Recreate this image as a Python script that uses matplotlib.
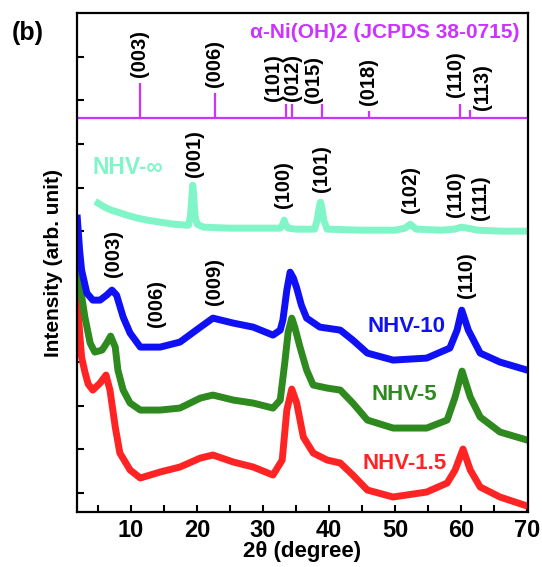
import matplotlib
matplotlib.use("Agg")
import matplotlib.pyplot as plt
import numpy as np

plt.rcParams['font.family'] = ['Liberation Sans', 'DejaVu Sans']
plt.rcParams['font.weight'] = 'bold'

# ---------------- data ----------------
# reference pattern alpha-Ni(OH)2 JCPDS 38-0715
ref_hkl = ["(003)", "(006)", "(101)", "(012)", "(015)", "(018)", "(110)", "(113)"]
ref_2theta = [11.35, 22.7, 33.5, 34.4, 38.9, 46.0, 59.9, 61.3]
ref_intensity = [100, 72, 40, 40, 40, 21, 40, 23]

# NHV-inf (offset pattern, arb. unit)
inf_x = [5.0, 6, 7, 8, 9.4, 11, 12.5, 14.4, 16.5, 18.3, 18.7, 19.0, 19.2, 19.35, 19.5, 19.7, 20.0,
         21, 25, 30, 32.6, 33.0, 33.2, 33.4, 33.8, 35, 37.8, 38.2, 38.5, 38.7, 38.9, 39.2, 39.7,
         45, 50, 51.5, 52.3, 53.2, 57, 59, 60, 61, 62.5, 66, 70]
inf_y = [309, 305, 302, 300, 297, 294, 292, 290, 288, 287, 287, 296, 315, 327, 315, 296, 288,
         285, 284, 284, 284, 288, 292, 288, 284, 283, 283, 292, 305, 310, 305, 292, 283,
         282, 282, 284, 288, 283, 282, 283, 285, 284, 282, 281, 281]

# NHV-10
b_x = [1.85, 2.2, 2.5, 3.3, 4.2, 5.3, 6.3, 7.1, 7.8, 8.8, 9.85, 11.4, 14.4, 17.4, 20.5, 22.4,
       25.5, 28.5, 31.5, 32.6, 33.0, 33.6, 34.1, 34.6, 35.1, 35.8, 36.6, 38.6, 41.7, 43.6, 45.8,
       49.7, 54.8, 58.3, 59.4, 60.1, 61.1, 62.9, 65.9, 70]
b_y = [294, 262, 242, 219, 212, 212, 217, 222, 217, 195, 179, 165, 165, 170, 185, 194,
       189, 185, 177, 182, 192, 222, 240, 234, 224, 207, 194, 185, 182, 172, 159,
       152, 154, 164, 182, 202, 182, 159, 150, 142]

# NHV-5
g_x = [1.85, 2.3, 3.0, 3.8, 4.5, 5.6, 6.3, 6.9, 7.6, 8.0, 8.8, 9.85, 11.4, 14.4, 17.4, 20.5,
       22.4, 25.5, 28.5, 31.5, 32.6, 33.3, 33.8, 34.35, 34.8, 35.6, 36.6, 37.6, 39.7, 41.7,
       43.6, 45.8, 49.7, 54.8, 57.9, 59.1, 60.15, 61.4, 62.9, 65.9, 70]
g_y = [272, 225, 195, 169, 160, 162, 169, 176, 165, 142, 122, 109, 102, 102, 104, 114,
       117, 112, 109, 104, 112, 150, 180, 194, 185, 165, 142, 127, 124, 122,
       109, 92, 84, 84, 92, 115, 141, 115, 95, 80, 72]

# NHV-1.5
r_x = [1.85, 2.2, 2.5, 3.0, 3.5, 4.2, 5.3, 6.2, 6.8, 7.6, 8.3, 9.85, 11.4, 14.4, 17.4, 20.5,
       22.4, 25.5, 28.5, 31.5, 32.9, 33.6, 34.35, 35.1, 36.1, 37.6, 39.7, 41.7, 43.6, 45.8,
       49.7, 54.8, 57.9, 59.1, 60.3, 61.4, 62.9, 65.9, 70]
r_y = [212, 180, 155, 140, 128, 122, 129, 137, 122, 85, 59, 42, 34, 40, 45, 54,
       57, 50, 45, 37, 52, 102, 123, 109, 75, 59, 52, 49, 37, 22,
       15, 20, 29, 42, 63, 42, 25, 15, 6]

# peak labels: (text, 2theta, bottom intensity)
inf_labels = [("(001)", 19.6, 335), ("(100)", 33.1, 304), ("(101)", 38.9, 320),
              ("(102)", 52.3, 299), ("(110)", 59.1, 295), ("(111)", 63.0, 292)]
b_labels = [("(003)", 7.3, 235), ("(006)", 13.9, 185), ("(009)", 22.6, 207), ("(110)", 60.9, 214)]
ref_label_pos = [(11.35, 435), (22.7, 425), (31.6, 411), (34.5, 411), (37.6, 409),
                 (46.0, 407), (59.2, 415), (63.2, 402)]

series_names = ["NHV-\u221e", "NHV-10", "NHV-5", "NHV-1.5"]

# ---------------- style ----------------
C_MAG = '#CC33FF'
C_INF = '#80F5C8'
C_B = '#1010F5'
C_G = '#2E8A1E'
C_R = '#FF2424'
HKL_FS = 14.5

fig = plt.figure(figsize=(5.42, 5.67), dpi=100)
ax = fig.add_axes([77.3 / 542, 1 - 512 / 567, (527.7 - 77.3) / 542, (512 - 13.3) / 567])

lw = 5.0
ax.plot(r_x, r_y, color=C_R, lw=lw, solid_joinstyle='round')
ax.plot(g_x, g_y, color=C_G, lw=lw, solid_joinstyle='round')
ax.plot(b_x, b_y, color=C_B, lw=lw, solid_joinstyle='round')
ax.plot(inf_x, inf_y, color=C_INF, lw=lw, solid_joinstyle='round')

# reference sticks
base = 394
scale = 0.35
ax.axhline(base, color=C_MAG, lw=1.6)
ax.vlines(ref_2theta, base, [base + v * scale for v in ref_intensity], color=C_MAG, lw=1.6)
for (t, (x, y)) in zip(ref_hkl, ref_label_pos):
    ax.text(x, y, t, rotation=90, ha='center', va='bottom', fontsize=HKL_FS, fontweight='bold')
ax.text(68.9, 480, "\u03b1-Ni(OH)2 (JCPDS 38-0715)", color=C_MAG, ha='right', va='center',
        fontsize=15, fontweight='bold')

for t, x, y in inf_labels + b_labels:
    ax.text(x, y, t, rotation=90, ha='center', va='bottom', fontsize=HKL_FS, fontweight='bold')

ax.text(4.1, 345, series_names[0], color=C_INF, ha='left', va='center', fontsize=16.5, fontweight='bold')
ax.text(45.8, 186, series_names[1], color=C_B, ha='left', va='center', fontsize=16, fontweight='bold')
ax.text(46.5, 118, series_names[2], color=C_G, ha='left', va='center', fontsize=16, fontweight='bold')
ax.text(45.0, 49, series_names[3], color=C_R, ha='left', va='center', fontsize=16, fontweight='bold')

ax.set_xlim(1.85, 70.1)
ax.set_ylim(0, 499)
ax.set_xticks([10, 20, 30, 40, 50, 60, 70])
ax.set_xticks([5, 15, 25, 35, 45, 55, 65], minor=True)
ax.set_yticks(np.arange(19, 499, 43.67))
ax.set_yticklabels([])
ax.tick_params(axis='both', which='both', direction='in', width=1.5, top=False, right=False)
ax.tick_params(axis='both', which='major', length=5)
ax.tick_params(axis='x', which='minor', length=5)
ax.tick_params(axis='x', labelsize=17, pad=5)
for lab in ax.get_xticklabels():
    lab.set_fontweight('bold')
for sp in ax.spines.values():
    sp.set_linewidth(1.6)

ax.set_xlabel("2\u03b8 (degree)", fontsize=16, fontweight='bold', labelpad=-1)
ax.set_ylabel("Intensity (arb. unit)", fontsize=15, fontweight='bold', labelpad=7)

fig.text(28 / 542, 1 - 33 / 567, "(b)", fontsize=18, fontweight='bold', ha='center', va='center')

fig.savefig("out.png", dpi=100)
